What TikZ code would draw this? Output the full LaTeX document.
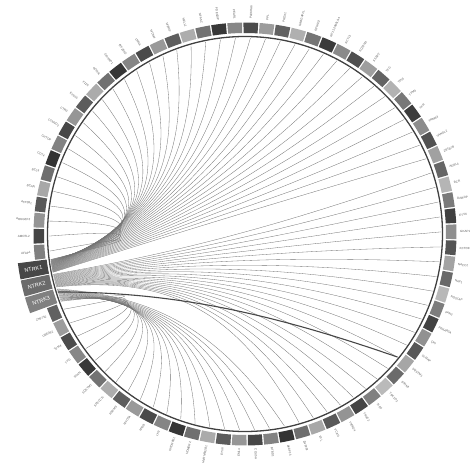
\documentclass[tikz,border=0pt]{standalone}
\usepackage{fontspec}
\setmainfont{Liberation Sans}
\usetikzlibrary{calc}
\begin{document}
\begin{tikzpicture}[x=1pt,y=1pt,
  lab/.style={font=\fontsize{3.0}{3.4}\selectfont, text=black!65, inner sep=0pt},
  ntlab/.style={font=\fontsize{5.5}{6}\selectfont, text=white, inner sep=0pt},
  chord/.style={draw=black!55, line width=0.32pt},
  heavy/.style={draw=black!72, line width=1.1pt},
  ring/.style={draw=black!75, line width=1.3pt}]
\useasboundingbox (-245,-231) rectangle (231,234);
\coordinate (O) at (0,0);
\coordinate (K1) at (-50,22);
\coordinate (K2) at (-30,-24);
\coordinate (K3) at (-62,-80);
% partner sectors
\foreach \nm [count=\i] in {AFAP1,AMOTL2,ARHGEF2,ATP1B1,BCAN,BCL9,CD74,CHTOP,CTNND2,CTRC,EPS15,F11R,GON4L,GRIPAP1,IRF2BP2,LMNA,MDM4,MPRIP,NELL1,NFASC,PDE4DIP,PEAR1,PLEKHA6,PPL,PRDX1,RABGAP1L,RFWD2,RP11-2000L9.4,SCYL3,SQSTM1,SSBP2,TFG,TP53,TPM3,TPR,TRIM63,VANGL2,ZBTB7B,AGBL4,BCR,DAB2IP,ETV6,GKAP1,KCTD8,NACC2,NAV1,NOS1AP,PAN3,PRKAR2A,QKI,SLMAP,SQSTM1,STRN3,TBC1D2,TLE4,TRAF2,TRIM24,VCAN,VCL,ZNF292,AKAP13,BTBD1,COX5A,EML4,ETV6,HNRNPA2B1,HOMER2,KHDRBS1,LYN,MYH9,MYO5A,RBPMS,SPECC1L,SQSTM1,STRN,TFG,TPM4,UBE2R2,ZNF710} {
  \pgfmathsetmacro\a{189.39-\i*4.3902}
  \pgfmathsetmacro\an{mod(\a+720,360)}
  \pgfmathtruncatemacro\g{27+mod(\i*23,54)}
  \pgfmathsetmacro\aa{\a+2.0}
  \pgfmathsetmacro\ab{\a-2.0}
  \coordinate (p\i) at (\a:196);
  \fill[black!\g] (\aa:201) arc[start angle=\aa, end angle=\ab, radius=201] -- (\ab:211.5) arc[start angle=\ab, end angle=\aa, radius=211.5] -- cycle;
  \pgfmathtruncatemacro\lft{and(\an>90,\an<270)}
  \ifnum\lft=1
    \pgfmathsetmacro\rot{\an+180}
    \node[lab, anchor=east, rotate=\rot] (t\i) at (\an:215) {\nm};
  \else
    \node[lab, anchor=west, rotate=\an] (t\i) at (\an:215) {\nm};
  \fi
}
% links
\foreach \q/\first/\last/\c in {1/1/38/189.39, 2/39/60/193.78, 3/61/79/198.17} {
  \foreach \i in {\first,...,\last} {
    \pgfmathsetmacro\ea{\c-1.9+(\i-\first)*3.8/(\last-\first)}
    \coordinate (e\i) at (\ea:196);
    \coordinate (m\i) at ($(e\i)!0.5!(p\i)$);
    \coordinate (c\i) at ($(O)!0.4!(m\i)$);
    \coordinate (b\i) at ($(c\i)!0.5!(K\q)$);
    \draw[chord] (e\i) .. controls ($(e\i)!0.72!(b\i)$) and ($(p\i)!0.72!(b\i)$) .. (p\i);
  }
}
\coordinate (eh) at (197.2:196);
\coordinate (mh) at ($(eh)!0.5!(p52)$);
\coordinate (ch) at ($(O)!0.4!(mh)$);
\coordinate (bh) at ($(ch)!0.5!(K3)$);
\draw[heavy] (eh) .. controls ($(eh)!0.72!(bh)$) and ($(p52)!0.72!(bh)$) .. (p52);
% inner ring
\draw[ring] (O) circle (197.5);
% NTRK sectors
\foreach \nm/\a/\g [count=\k] in {NTRK1/189.39/72, NTRK2/193.78/58, NTRK3/198.17/50} {
  \pgfmathsetmacro\aa{\a+2.05}
  \pgfmathsetmacro\ab{\a-2.05}
  \pgfmathsetmacro\rot{\a+180}
  \fill[black!\g] (\aa:200) arc[start angle=\aa, end angle=\ab, radius=200] -- (\ab:229) arc[start angle=\ab, end angle=\aa, radius=229] -- cycle;
  \node[ntlab, rotate=\rot] (N\k) at (\a:214.5) {\nm};
}
\end{tikzpicture}
\end{document}
